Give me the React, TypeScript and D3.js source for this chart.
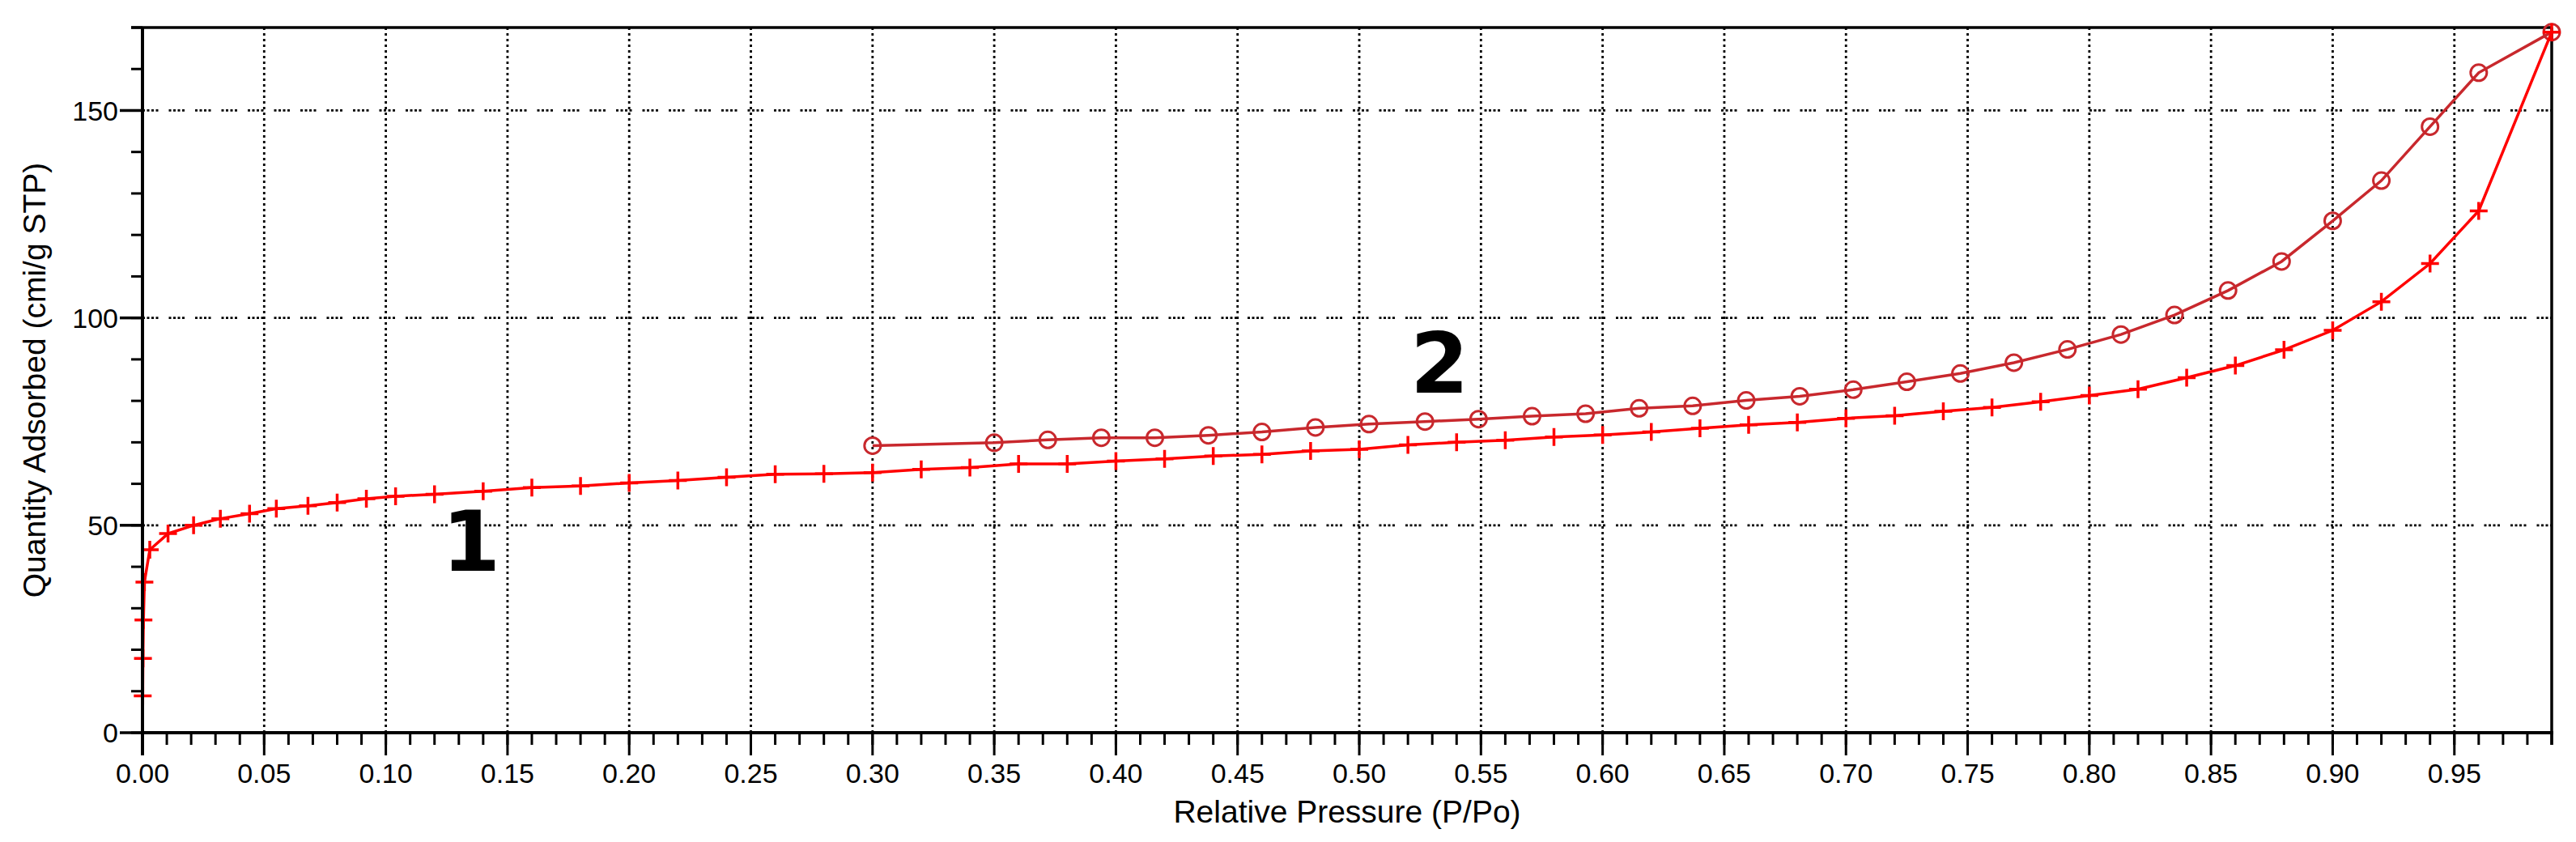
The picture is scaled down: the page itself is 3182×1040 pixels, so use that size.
import React, { useRef, useEffect } from 'react';
import * as d3 from 'd3';

// adsorption branch (+ markers)
const adsPressure = [
  0.0001, 0.0002, 0.0004, 0.0008, 0.003, 0.0105, 0.021, 0.032, 0.044, 0.055, 0.068, 0.08, 0.092, 0.104,
  0.12, 0.14, 0.16, 0.18, 0.2, 0.22, 0.24, 0.26, 0.28, 0.3, 0.32, 0.34, 0.36, 0.38, 0.4, 0.42, 0.44, 0.46,
  0.48, 0.5, 0.52, 0.54, 0.56, 0.58, 0.6, 0.62, 0.64, 0.66, 0.68, 0.7, 0.72, 0.74, 0.76, 0.78, 0.8, 0.82,
  0.84, 0.86, 0.88, 0.9, 0.92, 0.94, 0.96, 0.99,
];
const adsQuantity = [
  8.9, 17.9, 27.2, 36.3, 44.1, 48.0, 50.0, 51.6, 52.8, 54.0, 54.7, 55.5, 56.4, 57.0,
  57.5, 58.2, 59.1, 59.5, 60.2, 60.8, 61.6, 62.3, 62.4, 62.7, 63.5, 63.9, 64.8, 64.8, 65.5, 66.0, 66.7, 67.1,
  67.9, 68.3, 69.4, 70.0, 70.5, 71.3, 71.8, 72.5, 73.4, 74.2, 74.8, 75.8, 76.4, 77.5, 78.4, 79.8, 81.3, 82.8,
  85.6, 88.5, 92.3, 97.0, 103.9, 113.1, 125.8, 168.9,
];

// desorption branch (o markers)
const desPressure = [
  0.3, 0.35, 0.372, 0.394, 0.416, 0.438, 0.46, 0.482, 0.504, 0.527, 0.549, 0.571, 0.593, 0.615, 0.637,
  0.659, 0.681, 0.703, 0.725, 0.747, 0.769, 0.791, 0.813, 0.835, 0.857, 0.879, 0.9, 0.92, 0.94, 0.96, 0.99,
];
const desQuantity = [
  69.2, 69.9, 70.6, 71.1, 71.1, 71.7, 72.5, 73.6, 74.4, 75.0, 75.6, 76.3, 76.9, 78.2, 78.8,
  80.1, 81.1, 82.7, 84.6, 86.6, 89.2, 92.4, 96.0, 100.7, 106.6, 113.6, 123.4, 133.1, 146.1, 159.1, 168.9,
];

const xMajorTicks = d3.range(0, 20).map(i => i * 0.05);
const xMinorTicks = d3.range(0, 100).map(i => i * 0.01);
const yMajorTicks = [0, 50, 100, 150];
const yMinorTicks = d3.range(0, 18).map(i => i * 10);

const curveLabels = [
  { text: '1', x: 0.135, y: 39 },
  { text: '2', x: 0.533, y: 82 },
];

const FONT = '"Liberation Sans", Arial, sans-serif';

const IsothermChart = () => {
  const chartRef = useRef(null);

  useEffect(() => {
    d3.select(chartRef.current).selectAll('*').remove();

    const svg = d3.select(chartRef.current)
      .attr('width', 3182)
      .attr('height', 1040);

    svg.append('rect').attr('width', 3182).attr('height', 1040).attr('fill', '#fff');

    const left = 176, right = 3152, top = 34, bottom = 905;

    const x = d3.scaleLinear().domain([0, 0.99]).range([left, right]);
    const y = d3.scaleLinear().domain([0, 170]).range([bottom, top]);

    // grid
    svg.append('g')
      .selectAll('line')
      .data(xMajorTicks.filter(d => d > 0))
      .join('line')
      .attr('x1', d => x(d)).attr('x2', d => x(d))
      .attr('y1', top).attr('y2', bottom)
      .attr('stroke', '#000')
      .attr('stroke-width', 2.8)
      .attr('stroke-dasharray', '3,4');

    svg.append('g')
      .selectAll('line')
      .data(yMajorTicks.filter(d => d > 0))
      .join('line')
      .attr('x1', left).attr('x2', right)
      .attr('y1', d => y(d)).attr('y2', d => y(d))
      .attr('stroke', '#000')
      .attr('stroke-width', 2.8)
      .attr('stroke-dasharray', '3,2.5,3,2.5,3,2.5,3,13');

    // frame top / right
    svg.append('line')
      .attr('x1', left - 14).attr('x2', right)
      .attr('y1', top).attr('y2', top)
      .attr('stroke', '#000').attr('stroke-width', 3.5);
    svg.append('line')
      .attr('x1', right).attr('x2', right)
      .attr('y1', top).attr('y2', bottom + 15)
      .attr('stroke', '#000').attr('stroke-width', 3.5);

    // series
    const ads = adsPressure.map((p, i) => [p, adsQuantity[i]]);
    const des = desPressure.map((p, i) => [p, desQuantity[i]]);

    const line = d3.line()
      .x(d => x(d[0]))
      .y(d => y(d[1]));

    const adsColor = '#ff0000';
    const desColor = '#c8282d';

    svg.append('path')
      .datum(des)
      .attr('fill', 'none')
      .attr('stroke', desColor)
      .attr('stroke-width', 3.5)
      .attr('d', line);

    svg.append('g')
      .selectAll('circle')
      .data(des)
      .join('circle')
      .attr('cx', d => x(d[0]))
      .attr('cy', d => y(d[1]))
      .attr('r', 10)
      .attr('fill', 'none')
      .attr('stroke', desColor)
      .attr('stroke-width', 3);

    svg.append('path')
      .datum(ads)
      .attr('fill', 'none')
      .attr('stroke', adsColor)
      .attr('stroke-width', 3.5)
      .attr('d', line);

    svg.append('g')
      .attr('stroke', adsColor)
      .attr('stroke-width', 3.5)
      .selectAll('path')
      .data(ads)
      .join('path')
      .attr('d', d => {
        const cx = x(d[0]), cy = y(d[1]);
        return `M${cx - 11},${cy}H${cx + 11}M${cx},${cy - 11}V${cy + 11}`;
      });

    // x axis
    const xAxis = svg.append('g');
    xAxis.append('line')
      .attr('x1', left - 2).attr('x2', right + 2)
      .attr('y1', bottom).attr('y2', bottom)
      .attr('stroke', '#000').attr('stroke-width', 4);
    xAxis.selectAll('.minor')
      .data(xMinorTicks)
      .join('line')
      .attr('class', 'minor')
      .attr('x1', d => x(d)).attr('x2', d => x(d))
      .attr('y1', bottom).attr('y2', bottom + 15)
      .attr('stroke', '#000').attr('stroke-width', 3);
    xAxis.selectAll('.major')
      .data(xMajorTicks)
      .join('line')
      .attr('class', 'major')
      .attr('x1', d => x(d)).attr('x2', d => x(d))
      .attr('y1', bottom).attr('y2', bottom + 28)
      .attr('stroke', '#000').attr('stroke-width', 3);
    xAxis.selectAll('text')
      .data(xMajorTicks)
      .join('text')
      .attr('x', d => x(d))
      .attr('y', 967)
      .attr('text-anchor', 'middle')
      .attr('font-family', FONT)
      .attr('font-size', 34)
      .text(d => d3.format('.2f')(d));

    // y axis
    const yAxis = svg.append('g');
    yAxis.append('line')
      .attr('x1', left).attr('x2', left)
      .attr('y1', top).attr('y2', bottom + 28)
      .attr('stroke', '#000').attr('stroke-width', 4);
    yAxis.selectAll('.minor')
      .data(yMinorTicks)
      .join('line')
      .attr('class', 'minor')
      .attr('x1', left - 14).attr('x2', left)
      .attr('y1', d => y(d)).attr('y2', d => y(d))
      .attr('stroke', '#000').attr('stroke-width', 3);
    yAxis.selectAll('.major')
      .data(yMajorTicks)
      .join('line')
      .attr('class', 'major')
      .attr('x1', left - 28).attr('x2', left)
      .attr('y1', d => y(d)).attr('y2', d => y(d))
      .attr('stroke', '#000').attr('stroke-width', 3.5);
    yAxis.selectAll('text')
      .data(yMajorTicks)
      .join('text')
      .attr('x', 146)
      .attr('y', d => y(d))
      .attr('dy', '0.36em')
      .attr('text-anchor', 'end')
      .attr('font-family', FONT)
      .attr('font-size', 34)
      .text(d => d);

    // titles
    svg.append('text')
      .attr('x', (left + right) / 2)
      .attr('y', 1016)
      .attr('text-anchor', 'middle')
      .attr('font-family', FONT)
      .attr('font-size', 39)
      .text('Relative Pressure (P/Po)');

    svg.append('text')
      .attr('transform', `translate(56,${(top + bottom) / 2}) rotate(-90)`)
      .attr('text-anchor', 'middle')
      .attr('font-family', FONT)
      .attr('font-size', 39)
      .text('Quantity Adsorbed (cmi/g STP)');

    // curve numbers
    svg.append('g')
      .selectAll('text')
      .data(curveLabels)
      .join('text')
      .attr('x', d => x(d.x))
      .attr('y', d => y(d.y))
      .attr('text-anchor', 'middle')
      .attr('font-family', '"DejaVu Sans", sans-serif')
      .attr('font-weight', 'bold')
      .attr('font-size', 104)
      .text(d => d.text);
  }, []);

  return <svg ref={chartRef} style={{ position: 'absolute', left: 0, top: 0 }}></svg>;
};

export default function App() {
  return <IsothermChart />;
}
